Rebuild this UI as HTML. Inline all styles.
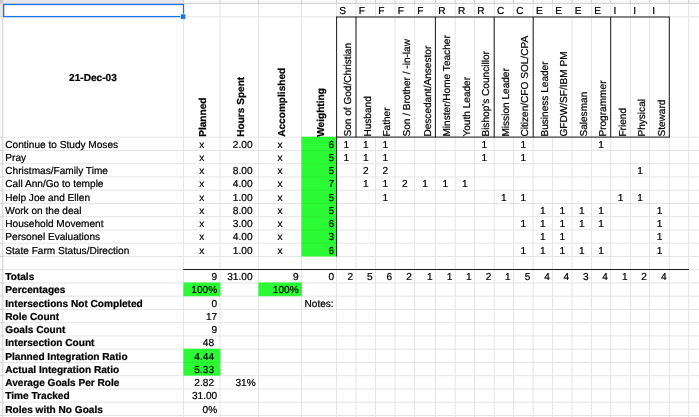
<!DOCTYPE html>
<html lang="en">
<head>
<meta charset="utf-8">
<title>Weekly Goals Sheet</title>
<style>
html,body{margin:0;padding:0;background:#fff;}
body{width:699px;height:417px;overflow:hidden;font-family:"Liberation Sans",Arial,sans-serif;}
svg{display:block;text-rendering:geometricPrecision;}
svg text{stroke:#000;stroke-width:0.22px;}
</style>
</head>
<body>
<svg width="699" height="417" viewBox="0 0 699 417" font-family="'Liberation Sans', Arial, sans-serif" font-size="10.1" fill="#000">
<rect x="0" y="0" width="699" height="417" fill="#fff"/>
<g stroke="#e5e5e5" stroke-width="1" shape-rendering="auto">
<line x1="183.50" y1="3.40" x2="183.50" y2="417"/>
<line x1="220.00" y1="3.40" x2="220.00" y2="417"/>
<line x1="258.50" y1="3.40" x2="258.50" y2="417"/>
<line x1="301.50" y1="3.40" x2="301.50" y2="417"/>
<line x1="336.50" y1="3.40" x2="336.50" y2="417"/>
<line x1="356.00" y1="3.40" x2="356.00" y2="417"/>
<line x1="375.50" y1="3.40" x2="375.50" y2="16.80"/>
<line x1="375.50" y1="137.20" x2="375.50" y2="417"/>
<line x1="395.00" y1="3.40" x2="395.00" y2="417"/>
<line x1="414.60" y1="3.40" x2="414.60" y2="417"/>
<line x1="435.40" y1="3.40" x2="435.40" y2="417"/>
<line x1="455.20" y1="3.40" x2="455.20" y2="417"/>
<line x1="474.50" y1="3.40" x2="474.50" y2="417"/>
<line x1="494.20" y1="3.40" x2="494.20" y2="417"/>
<line x1="513.50" y1="3.40" x2="513.50" y2="16.80"/>
<line x1="513.50" y1="137.20" x2="513.50" y2="417"/>
<line x1="533.20" y1="3.40" x2="533.20" y2="417"/>
<line x1="552.60" y1="3.40" x2="552.60" y2="16.80"/>
<line x1="552.60" y1="137.20" x2="552.60" y2="417"/>
<line x1="572.00" y1="3.40" x2="572.00" y2="417"/>
<line x1="591.40" y1="3.40" x2="591.40" y2="417"/>
<line x1="610.70" y1="3.40" x2="610.70" y2="417"/>
<line x1="630.40" y1="3.40" x2="630.40" y2="417"/>
<line x1="649.60" y1="3.40" x2="649.60" y2="417"/>
<line x1="669.30" y1="3.40" x2="669.30" y2="417"/>
<line x1="688.70" y1="3.40" x2="688.70" y2="417"/>
<line x1="2.80" y1="16.80" x2="699" y2="16.80"/>
<line x1="2.80" y1="137.20" x2="699" y2="137.20"/>
<line x1="2.80" y1="150.45" x2="699" y2="150.45"/>
<line x1="2.80" y1="163.70" x2="699" y2="163.70"/>
<line x1="2.80" y1="176.95" x2="699" y2="176.95"/>
<line x1="2.80" y1="190.20" x2="699" y2="190.20"/>
<line x1="2.80" y1="203.45" x2="699" y2="203.45"/>
<line x1="2.80" y1="216.70" x2="699" y2="216.70"/>
<line x1="2.80" y1="229.95" x2="699" y2="229.95"/>
<line x1="2.80" y1="243.20" x2="699" y2="243.20"/>
<line x1="2.80" y1="256.45" x2="699" y2="256.45"/>
<line x1="2.80" y1="269.70" x2="699" y2="269.70"/>
<line x1="2.80" y1="282.95" x2="699" y2="282.95"/>
<line x1="2.80" y1="296.20" x2="699" y2="296.20"/>
<line x1="2.80" y1="309.45" x2="699" y2="309.45"/>
<line x1="2.80" y1="322.70" x2="699" y2="322.70"/>
<line x1="2.80" y1="335.95" x2="699" y2="335.95"/>
<line x1="2.80" y1="349.20" x2="699" y2="349.20"/>
<line x1="2.80" y1="362.45" x2="699" y2="362.45"/>
<line x1="2.80" y1="375.70" x2="699" y2="375.70"/>
<line x1="2.80" y1="388.95" x2="699" y2="388.95"/>
<line x1="2.80" y1="402.20" x2="699" y2="402.20"/>
<line x1="2.80" y1="415.45" x2="699" y2="415.45"/>
<line x1="2.80" y1="428.70" x2="699" y2="428.70"/>
</g>
<rect x="301.40" y="136.70" width="35.50" height="119.75" fill="#2bfb35"/>
<rect x="183.40" y="282.45" width="37.00" height="13.75" fill="#2bfb35"/>
<rect x="258.40" y="282.45" width="43.50" height="13.75" fill="#2bfb35"/>
<rect x="183.40" y="348.70" width="37.00" height="27.00" fill="#2bfb35"/>
<g stroke="#27e830" stroke-width="0.8">
<line x1="301.50" y1="150.45" x2="336.50" y2="150.45"/>
<line x1="301.50" y1="163.70" x2="336.50" y2="163.70"/>
<line x1="301.50" y1="176.95" x2="336.50" y2="176.95"/>
<line x1="301.50" y1="190.20" x2="336.50" y2="190.20"/>
<line x1="301.50" y1="203.45" x2="336.50" y2="203.45"/>
<line x1="301.50" y1="216.70" x2="336.50" y2="216.70"/>
<line x1="301.50" y1="229.95" x2="336.50" y2="229.95"/>
<line x1="301.50" y1="243.20" x2="336.50" y2="243.20"/>
<line x1="183.50" y1="362.45" x2="220.00" y2="362.45"/>
</g>
<rect x="0" y="0" width="699" height="3.20" fill="#f8f9fa"/>
<rect x="2.80" y="0" width="180.70" height="3.20" fill="#e6e8eb"/>
<rect x="0" y="0" width="2.60" height="417" fill="#f8f9fa"/>
<rect x="0" y="3.40" width="2.60" height="13.40" fill="#e6e8eb"/>
<rect x="0" y="0" width="2.60" height="3.20" fill="#c4c4c4"/>
<g stroke="#cfcfcf" stroke-width="1">
<line x1="0" y1="3.40" x2="699" y2="3.40"/>
<line x1="2.80" y1="0" x2="2.80" y2="417"/>
<line x1="183.50" y1="0" x2="183.50" y2="3.40"/>
<line x1="220.00" y1="0" x2="220.00" y2="3.40"/>
<line x1="258.50" y1="0" x2="258.50" y2="3.40"/>
<line x1="301.50" y1="0" x2="301.50" y2="3.40"/>
<line x1="336.50" y1="0" x2="336.50" y2="3.40"/>
<line x1="356.00" y1="0" x2="356.00" y2="3.40"/>
<line x1="375.50" y1="0" x2="375.50" y2="3.40"/>
<line x1="395.00" y1="0" x2="395.00" y2="3.40"/>
<line x1="414.60" y1="0" x2="414.60" y2="3.40"/>
<line x1="435.40" y1="0" x2="435.40" y2="3.40"/>
<line x1="455.20" y1="0" x2="455.20" y2="3.40"/>
<line x1="474.50" y1="0" x2="474.50" y2="3.40"/>
<line x1="494.20" y1="0" x2="494.20" y2="3.40"/>
<line x1="513.50" y1="0" x2="513.50" y2="3.40"/>
<line x1="533.20" y1="0" x2="533.20" y2="3.40"/>
<line x1="552.60" y1="0" x2="552.60" y2="3.40"/>
<line x1="572.00" y1="0" x2="572.00" y2="3.40"/>
<line x1="591.40" y1="0" x2="591.40" y2="3.40"/>
<line x1="610.70" y1="0" x2="610.70" y2="3.40"/>
<line x1="630.40" y1="0" x2="630.40" y2="3.40"/>
<line x1="649.60" y1="0" x2="649.60" y2="3.40"/>
<line x1="669.30" y1="0" x2="669.30" y2="3.40"/>
<line x1="688.70" y1="0" x2="688.70" y2="3.40"/>
<line x1="0" y1="16.80" x2="2.80" y2="16.80"/>
<line x1="0" y1="137.20" x2="2.80" y2="137.20"/>
<line x1="0" y1="150.45" x2="2.80" y2="150.45"/>
<line x1="0" y1="163.70" x2="2.80" y2="163.70"/>
<line x1="0" y1="176.95" x2="2.80" y2="176.95"/>
<line x1="0" y1="190.20" x2="2.80" y2="190.20"/>
<line x1="0" y1="203.45" x2="2.80" y2="203.45"/>
<line x1="0" y1="216.70" x2="2.80" y2="216.70"/>
<line x1="0" y1="229.95" x2="2.80" y2="229.95"/>
<line x1="0" y1="243.20" x2="2.80" y2="243.20"/>
<line x1="0" y1="256.45" x2="2.80" y2="256.45"/>
<line x1="0" y1="269.70" x2="2.80" y2="269.70"/>
<line x1="0" y1="282.95" x2="2.80" y2="282.95"/>
<line x1="0" y1="296.20" x2="2.80" y2="296.20"/>
<line x1="0" y1="309.45" x2="2.80" y2="309.45"/>
<line x1="0" y1="322.70" x2="2.80" y2="322.70"/>
<line x1="0" y1="335.95" x2="2.80" y2="335.95"/>
<line x1="0" y1="349.20" x2="2.80" y2="349.20"/>
<line x1="0" y1="362.45" x2="2.80" y2="362.45"/>
<line x1="0" y1="375.70" x2="2.80" y2="375.70"/>
<line x1="0" y1="388.95" x2="2.80" y2="388.95"/>
<line x1="0" y1="402.20" x2="2.80" y2="402.20"/>
<line x1="0" y1="415.45" x2="2.80" y2="415.45"/>
<line x1="0" y1="428.70" x2="2.80" y2="428.70"/>
</g>
<g stroke="#1a1a1a" stroke-width="1" fill="none">
<line x1="336.00" y1="17.00" x2="669.80" y2="17.00"/>
<line x1="336.00" y1="137.10" x2="669.80" y2="137.10"/>
<line x1="336.60" y1="16.80" x2="336.60" y2="256.45"/>
<line x1="356.00" y1="16.80" x2="356.00" y2="137.20"/>
<line x1="435.40" y1="16.80" x2="435.40" y2="137.20"/>
<line x1="494.20" y1="16.80" x2="494.20" y2="137.20"/>
<line x1="533.20" y1="16.80" x2="533.20" y2="137.20"/>
<line x1="610.70" y1="16.80" x2="610.70" y2="137.20"/>
<line x1="669.30" y1="16.80" x2="669.30" y2="137.20"/>
<line x1="183.20" y1="269.50" x2="689.00" y2="269.50"/>
</g>
<rect x="3.65" y="4.50" width="179.85" height="12.10" fill="none" stroke="#1a73e8" stroke-width="1.3"/>
<rect x="180.60" y="14.00" width="5.2" height="5.2" fill="#1a73e8" stroke="#fff" stroke-width="0.6"/>
<text x="339.25" y="14.20">S</text>
<text x="358.75" y="14.20">F</text>
<text x="378.25" y="14.20">F</text>
<text x="397.75" y="14.20">F</text>
<text x="417.35" y="14.20">F</text>
<text x="438.15" y="14.20">R</text>
<text x="457.95" y="14.20">R</text>
<text x="477.25" y="14.20">R</text>
<text x="496.95" y="14.20">C</text>
<text x="516.25" y="14.20">C</text>
<text x="535.95" y="14.20">E</text>
<text x="555.35" y="14.20">E</text>
<text x="574.75" y="14.20">E</text>
<text x="594.15" y="14.20">E</text>
<text x="613.45" y="14.20">I</text>
<text x="633.15" y="14.20">I</text>
<text x="652.35" y="14.20">I</text>
<text x="92.95" y="80.60" text-anchor="middle" font-weight="bold">21-Dec-03</text>
<text transform="translate(206.10 136.80) rotate(-90)" font-weight="bold">Planned</text>
<text transform="translate(243.50 136.80) rotate(-90)" font-weight="bold">Hours Spent</text>
<text transform="translate(284.70 136.80) rotate(-90)" font-weight="bold">Accomplished</text>
<text transform="translate(324.10 136.80) rotate(-90)" font-weight="bold">Weighting</text>
<text transform="translate(351.20 136.60) rotate(-90)">Son of God/Christian</text>
<text transform="translate(370.70 136.60) rotate(-90)">Husband</text>
<text transform="translate(390.20 136.60) rotate(-90)">Father</text>
<text transform="translate(409.80 136.60) rotate(-90)">Son / Brother / -in-law</text>
<text transform="translate(430.60 136.60) rotate(-90)">Descedant/Ansestor</text>
<text transform="translate(450.40 136.60) rotate(-90)">Minster/Home Teacher</text>
<text transform="translate(469.70 136.60) rotate(-90)">Youth Leader</text>
<text transform="translate(489.40 136.60) rotate(-90)">Bishop&#39;s Councillor</text>
<text transform="translate(508.70 136.60) rotate(-90)">Mission Leader</text>
<text transform="translate(528.40 136.60) rotate(-90)">Citizen/CFO SOL/CPA</text>
<text transform="translate(547.80 136.60) rotate(-90)">Business Leader</text>
<text transform="translate(567.20 136.60) rotate(-90)">GFDW/SF/IBM PM</text>
<text transform="translate(586.60 136.60) rotate(-90)">Salesman</text>
<text transform="translate(605.90 136.60) rotate(-90)">Programmer</text>
<text transform="translate(625.60 136.60) rotate(-90)">Friend</text>
<text transform="translate(644.80 136.60) rotate(-90)">Physical</text>
<text transform="translate(664.50 136.60) rotate(-90)">Steward</text>
<text x="5.30" y="147.55">Continue to Study Moses</text>
<text x="201.75" y="147.55" text-anchor="middle">x</text>
<text x="252.50" y="147.55" text-anchor="end">2.00</text>
<text x="280.00" y="147.55" text-anchor="middle">x</text>
<text x="334.10" y="147.55" text-anchor="end">6</text>
<text x="346.25" y="147.55" text-anchor="middle">1</text>
<text x="365.75" y="147.55" text-anchor="middle">1</text>
<text x="385.25" y="147.55" text-anchor="middle">1</text>
<text x="484.35" y="147.55" text-anchor="middle">1</text>
<text x="523.35" y="147.55" text-anchor="middle">1</text>
<text x="601.05" y="147.55" text-anchor="middle">1</text>
<text x="5.30" y="160.80">Pray</text>
<text x="201.75" y="160.80" text-anchor="middle">x</text>
<text x="280.00" y="160.80" text-anchor="middle">x</text>
<text x="334.10" y="160.80" text-anchor="end">5</text>
<text x="346.25" y="160.80" text-anchor="middle">1</text>
<text x="365.75" y="160.80" text-anchor="middle">1</text>
<text x="385.25" y="160.80" text-anchor="middle">1</text>
<text x="484.35" y="160.80" text-anchor="middle">1</text>
<text x="523.35" y="160.80" text-anchor="middle">1</text>
<text x="5.30" y="174.05">Christmas/Family Time</text>
<text x="201.75" y="174.05" text-anchor="middle">x</text>
<text x="252.50" y="174.05" text-anchor="end">8.00</text>
<text x="280.00" y="174.05" text-anchor="middle">x</text>
<text x="334.10" y="174.05" text-anchor="end">5</text>
<text x="365.75" y="174.05" text-anchor="middle">2</text>
<text x="385.25" y="174.05" text-anchor="middle">2</text>
<text x="640.00" y="174.05" text-anchor="middle">1</text>
<text x="5.30" y="187.30">Call Ann/Go to temple</text>
<text x="201.75" y="187.30" text-anchor="middle">x</text>
<text x="252.50" y="187.30" text-anchor="end">4.00</text>
<text x="280.00" y="187.30" text-anchor="middle">x</text>
<text x="334.10" y="187.30" text-anchor="end">7</text>
<text x="365.75" y="187.30" text-anchor="middle">1</text>
<text x="385.25" y="187.30" text-anchor="middle">1</text>
<text x="404.80" y="187.30" text-anchor="middle">2</text>
<text x="425.00" y="187.30" text-anchor="middle">1</text>
<text x="445.30" y="187.30" text-anchor="middle">1</text>
<text x="464.85" y="187.30" text-anchor="middle">1</text>
<text x="5.30" y="200.55">Help Joe and Ellen</text>
<text x="201.75" y="200.55" text-anchor="middle">x</text>
<text x="252.50" y="200.55" text-anchor="end">1.00</text>
<text x="280.00" y="200.55" text-anchor="middle">x</text>
<text x="334.10" y="200.55" text-anchor="end">5</text>
<text x="385.25" y="200.55" text-anchor="middle">1</text>
<text x="503.85" y="200.55" text-anchor="middle">1</text>
<text x="523.35" y="200.55" text-anchor="middle">1</text>
<text x="620.55" y="200.55" text-anchor="middle">1</text>
<text x="640.00" y="200.55" text-anchor="middle">1</text>
<text x="5.30" y="213.80">Work on the deal</text>
<text x="201.75" y="213.80" text-anchor="middle">x</text>
<text x="252.50" y="213.80" text-anchor="end">8.00</text>
<text x="280.00" y="213.80" text-anchor="middle">x</text>
<text x="334.10" y="213.80" text-anchor="end">5</text>
<text x="542.90" y="213.80" text-anchor="middle">1</text>
<text x="562.30" y="213.80" text-anchor="middle">1</text>
<text x="581.70" y="213.80" text-anchor="middle">1</text>
<text x="601.05" y="213.80" text-anchor="middle">1</text>
<text x="659.45" y="213.80" text-anchor="middle">1</text>
<text x="5.30" y="227.05">Household Movement</text>
<text x="201.75" y="227.05" text-anchor="middle">x</text>
<text x="252.50" y="227.05" text-anchor="end">3.00</text>
<text x="280.00" y="227.05" text-anchor="middle">x</text>
<text x="334.10" y="227.05" text-anchor="end">6</text>
<text x="523.35" y="227.05" text-anchor="middle">1</text>
<text x="542.90" y="227.05" text-anchor="middle">1</text>
<text x="562.30" y="227.05" text-anchor="middle">1</text>
<text x="581.70" y="227.05" text-anchor="middle">1</text>
<text x="601.05" y="227.05" text-anchor="middle">1</text>
<text x="659.45" y="227.05" text-anchor="middle">1</text>
<text x="5.30" y="240.30">Personel Evaluations</text>
<text x="201.75" y="240.30" text-anchor="middle">x</text>
<text x="252.50" y="240.30" text-anchor="end">4.00</text>
<text x="280.00" y="240.30" text-anchor="middle">x</text>
<text x="334.10" y="240.30" text-anchor="end">3</text>
<text x="542.90" y="240.30" text-anchor="middle">1</text>
<text x="562.30" y="240.30" text-anchor="middle">1</text>
<text x="659.45" y="240.30" text-anchor="middle">1</text>
<text x="5.30" y="253.55">State Farm Status/Direction</text>
<text x="201.75" y="253.55" text-anchor="middle">x</text>
<text x="252.50" y="253.55" text-anchor="end">1.00</text>
<text x="280.00" y="253.55" text-anchor="middle">x</text>
<text x="334.10" y="253.55" text-anchor="end">6</text>
<text x="523.35" y="253.55" text-anchor="middle">1</text>
<text x="542.90" y="253.55" text-anchor="middle">1</text>
<text x="562.30" y="253.55" text-anchor="middle">1</text>
<text x="581.70" y="253.55" text-anchor="middle">1</text>
<text x="601.05" y="253.55" text-anchor="middle">1</text>
<text x="659.45" y="253.55" text-anchor="middle">1</text>
<text x="5.30" y="280.10" font-weight="bold">Totals</text>
<text x="217.20" y="280.10" text-anchor="end">9</text>
<text x="252.50" y="280.10" text-anchor="end">31.00</text>
<text x="298.70" y="280.10" text-anchor="end">9</text>
<text x="334.10" y="280.10" text-anchor="end">0</text>
<text x="353.20" y="280.10" text-anchor="end">2</text>
<text x="372.70" y="280.10" text-anchor="end">5</text>
<text x="392.20" y="280.10" text-anchor="end">6</text>
<text x="411.80" y="280.10" text-anchor="end">2</text>
<text x="432.60" y="280.10" text-anchor="end">1</text>
<text x="452.40" y="280.10" text-anchor="end">1</text>
<text x="471.70" y="280.10" text-anchor="end">1</text>
<text x="491.40" y="280.10" text-anchor="end">2</text>
<text x="510.70" y="280.10" text-anchor="end">1</text>
<text x="530.40" y="280.10" text-anchor="end">5</text>
<text x="549.80" y="280.10" text-anchor="end">4</text>
<text x="569.20" y="280.10" text-anchor="end">4</text>
<text x="588.60" y="280.10" text-anchor="end">3</text>
<text x="607.90" y="280.10" text-anchor="end">4</text>
<text x="627.60" y="280.10" text-anchor="end">1</text>
<text x="646.80" y="280.10" text-anchor="end">2</text>
<text x="666.50" y="280.10" text-anchor="end">4</text>
<text x="5.30" y="293.35" font-weight="bold">Percentages</text>
<text x="217.20" y="293.35" text-anchor="end">100%</text>
<text x="298.70" y="293.35" text-anchor="end">100%</text>
<text x="5.30" y="306.60" font-weight="bold">Intersections Not Completed</text>
<text x="217.20" y="306.60" text-anchor="end">0</text>
<text x="304.50" y="306.60">Notes:</text>
<text x="5.30" y="319.85" font-weight="bold">Role Count</text>
<text x="217.20" y="319.85" text-anchor="end">17</text>
<text x="5.30" y="333.10" font-weight="bold">Goals Count</text>
<text x="217.20" y="333.10" text-anchor="end">9</text>
<text x="5.30" y="346.35" font-weight="bold">Intersection Count</text>
<text x="214.00" y="346.35" text-anchor="end">48</text>
<text x="5.30" y="359.60" font-weight="bold">Planned Integration Ratio</text>
<text x="214.00" y="359.60" text-anchor="end">4.44</text>
<text x="5.30" y="372.85" font-weight="bold">Actual Integration Ratio</text>
<text x="214.00" y="372.85" text-anchor="end">5.33</text>
<text x="5.30" y="386.10" font-weight="bold">Average Goals Per Role</text>
<text x="214.00" y="386.10" text-anchor="end">2.82</text>
<text x="255.70" y="386.10" text-anchor="end">31%</text>
<text x="5.30" y="399.35" font-weight="bold">Time Tracked</text>
<text x="217.20" y="399.35" text-anchor="end">31.00</text>
<text x="5.30" y="412.60" font-weight="bold">Roles with No Goals</text>
<text x="217.20" y="412.60" text-anchor="end">0%</text>
</svg>
</body>
</html>
